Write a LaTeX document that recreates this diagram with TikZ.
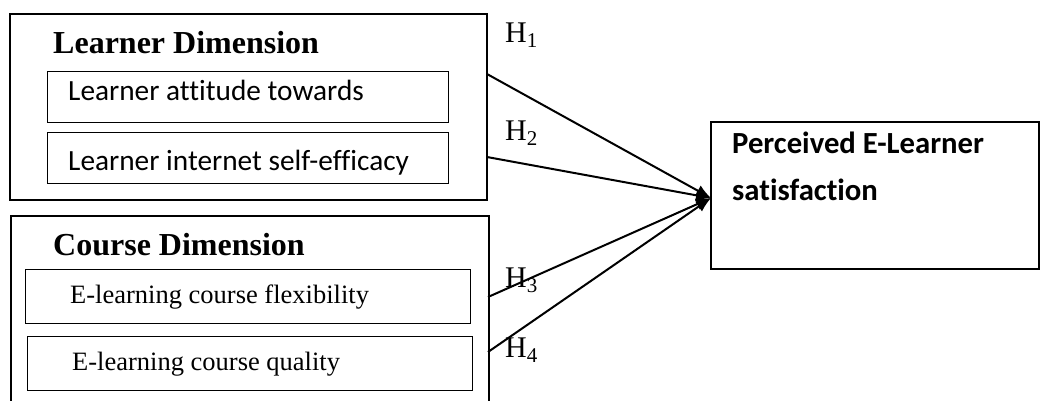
\documentclass[tikz,border=0pt]{standalone}
\usepackage{fontspec}
\setmainfont{Liberation Serif}
\newfontfamily\calib[Ligatures=NoCommon]{Carlito}
\usetikzlibrary{arrows.meta}
\begin{document}
\begin{tikzpicture}[x=1pt,y=-1pt,
  outerbox/.style={draw, line width=1.8pt, anchor=north west, inner sep=0pt},
  innerbox/.style={draw, line width=1.4pt, anchor=north west, inner sep=0pt},
  lbl/.style={anchor=base west, inner sep=0pt},
  head/.style={lbl, font=\fontsize{32}{38}\selectfont\bfseries},
  sanslbl/.style={lbl, font=\fontsize{29.3}{34}\calib},
  seriflbl/.style={lbl, font=\fontsize{26.5}{31}\selectfont},
  hlbl/.style={lbl, font=\fontsize{30}{36}\selectfont},
  conn/.style={line width=2pt, -{Latex[length=15pt,width=12pt]}}
]
\useasboundingbox (0,0) rectangle (1040,400);
\clip (0,0) rectangle (1040,400);
% Learner dimension
\node[outerbox, minimum width=477pt, minimum height=186pt] (L) at (9,13) {};
\node[innerbox, minimum width=401pt, minimum height=51pt] (L1) at (47,71) {};
\node[innerbox, minimum width=401pt, minimum height=51pt] (L2) at (47,132) {};
\node[head] (Lt) at (53,53) {Learner Dimension};
\node[sanslbl] (L1t) at (68,100) {Learner attitude towards};
\node[sanslbl] (L2t) at (68,170) {Learner internet self-efficacy};
% Course dimension
\node[outerbox, minimum width=478pt, minimum height=220pt] (C) at (10,215) {};
\node[innerbox, minimum width=445pt, minimum height=54pt] (C1) at (25,269) {};
\node[innerbox, minimum width=445pt, minimum height=54pt] (C2) at (27,336) {};
\node[head] (Ct) at (53,255) {Course Dimension};
\node[seriflbl] (C1t) at (70,303) {E-learning course flexibility};
\node[seriflbl] (C2t) at (72,370) {E-learning course quality};
% Outcome
\node[outerbox, minimum width=328pt, minimum height=147pt] (P) at (710,121) {};
\node[lbl, font=\fontsize{30.7}{36}\calib\bfseries] (Pt1) at (732,153) {Perceived E-Learner};
\node[lbl, font=\fontsize{30.7}{36}\calib\bfseries] (Pt2) at (732,200) {satisfaction};
% connectors
\coordinate (tip) at (711,198);
\coordinate (s1) at (487,74);
\coordinate (s2) at (487,157);
\coordinate (s3) at (488,297);
\coordinate (s4) at (488,352);
\draw[conn] (s1) -- (tip);
\draw[conn] (s2) -- (tip);
\draw[conn] (s3) -- (tip);
\draw[conn] (s4) -- (tip);
% labels
\node[hlbl] (H1) at (505,42) {H\textsubscript{1}};
\node[hlbl] (H2) at (505,140) {H\textsubscript{2}};
\node[hlbl] (H3) at (505,287) {H\textsubscript{3}};
\node[hlbl] (H4) at (505,357) {H\textsubscript{4}};
\end{tikzpicture}
\end{document}
